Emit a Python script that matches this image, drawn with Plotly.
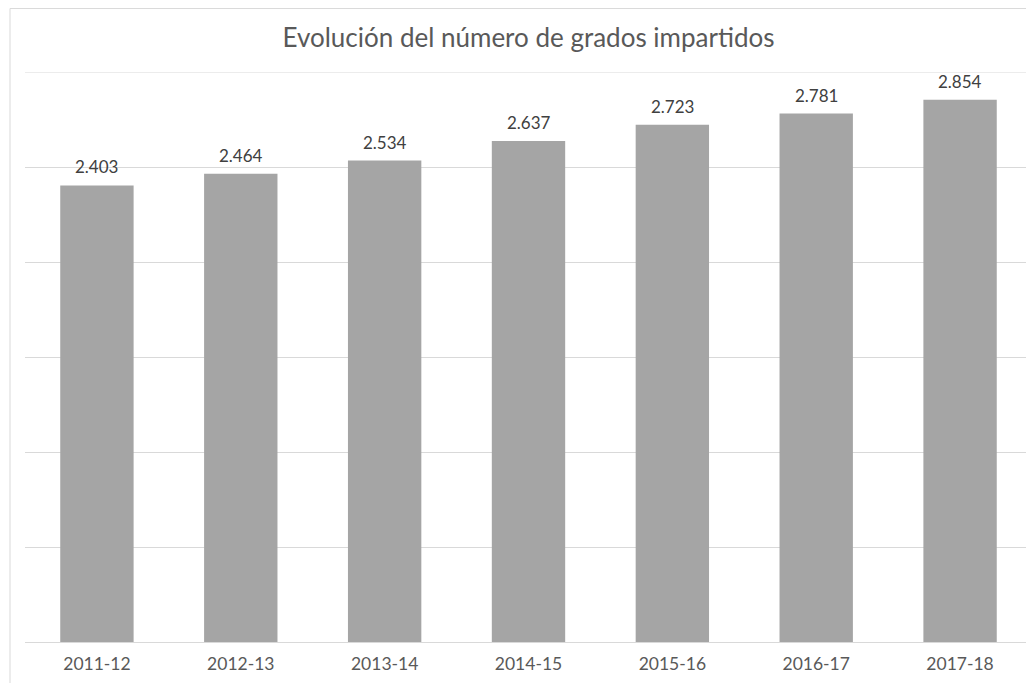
import plotly.graph_objects as go

categories = ["2011-12", "2012-13", "2013-14", "2014-15", "2015-16", "2016-17", "2017-18"]
values = [2403, 2464, 2534, 2637, 2723, 2781, 2854]
title_text = "Evolución del número de grados impartidos"
y_max = 3000

FONT = "Lato, 'Open Sans', sans-serif"

fig = go.Figure()
fig.add_trace(go.Bar(
    x=categories,
    y=values,
    marker=dict(color="#A5A5A5", line=dict(width=0)),
    hoverinfo="skip",
))

for c, v in zip(categories, values):
    fig.add_annotation(
        x=c, y=v, xref="x", yref="y",
        text=f"{v:,}".replace(",", "."),
        showarrow=False, yanchor="bottom", xanchor="center", yshift=6,
        font=dict(family=FONT, size=17, color="#404040"),
    )

# page body has an 8px margin, so the figure is laid out 8px smaller
W, H = 1026, 675
l, r, t, b = 16.5, 1.5, 64, 41.3
pw = W - l - r
ph = H - t - b

fig.update_layout(
    width=W, height=H,
    margin=dict(l=l, r=r, t=t, b=b, pad=0),
    paper_bgcolor="white",
    plot_bgcolor="white",
    separators=",.",
    bargap=0.49,
    showlegend=False,
    title=dict(text=title_text, x=520.5 / W, xanchor="center", y=1 - 30 / H, yanchor="middle",
               font=dict(family=FONT, size=26, color="#595959")),
    xaxis=dict(type="category", showgrid=False, showline=True, linecolor="#D9D9D9", linewidth=1, ticks="",
               ticklabelstandoff=6,
               tickfont=dict(family=FONT, size=17.5, color="#595959"), automargin=False),
    yaxis=dict(range=[0, y_max], dtick=500, showticklabels=False, showgrid=True,
               gridcolor="#D9D9D9", gridwidth=1, zeroline=False, showline=False, automargin=False),
    shapes=[
        dict(type="line", xref="paper", yref="y", x0=0, x1=1, y0=y_max, y1=y_max,
             line=dict(color="#D9D9D9", width=1), layer="below"),
        dict(type="line", xref="paper", yref="paper",
             x0=(1.5 - l) / pw, x1=(1.5 - l) / pw, y0=-1, y1=(H - b - 0.5) / ph,
             line=dict(color="#D9D9D9", width=1)),
        dict(type="line", xref="paper", yref="paper",
             x0=(1.5 - l) / pw, x1=1.1, y0=(H - b - 0.5) / ph, y1=(H - b - 0.5) / ph,
             line=dict(color="#D9D9D9", width=1)),
    ],
)

fig.write_html("out.html")
